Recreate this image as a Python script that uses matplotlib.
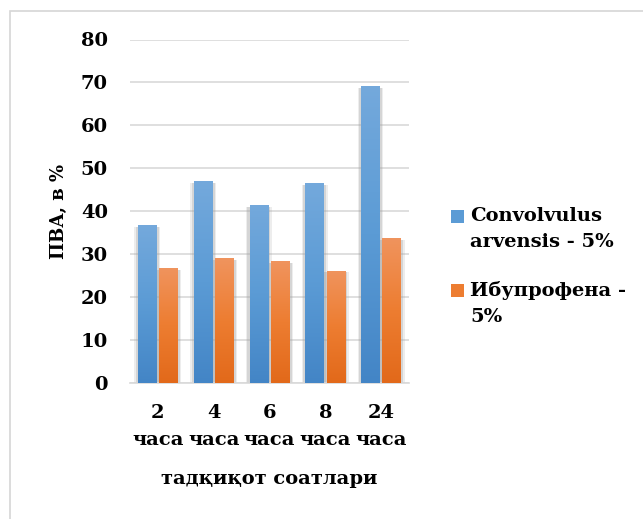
import numpy as np
import matplotlib.pyplot as plt
from matplotlib.patches import Rectangle
from matplotlib.colors import LinearSegmentedColormap

# data
hours = ['2', '4', '6', '8', '24']
convolvulus = [36.7, 47.0, 41.5, 46.6, 69.2]
ibuprofen = [26.8, 29.1, 28.4, 26.2, 33.8]
series_names = ['Convolvulus\narvensis - 5%', 'Ибупрофена -\n5%']
series_colors = ['#5b9bd5', '#ed7d31']
tick_labels = [h + '\nчаса' for h in hours]

plt.rcParams['font.family'] = ['DejaVu Serif']
plt.rcParams['font.weight'] = 'bold'

W, H = 643, 519
fig = plt.figure(figsize=(W / 100, H / 100), dpi=100)
fig.patch.set_facecolor('white')

# light frame of the chart area (only top and left edges visible)
fig.add_artist(Rectangle((10 / W, -0.2), 1.2, 1.2 - 10.5 / H,
                         transform=fig.transFigure, fill=False,
                         edgecolor='#d6d6d6', linewidth=1.2))

ax = fig.add_axes([130 / W, 1 - 383 / H, 279 / W, (383 - 39.5) / H])

blue_cmap = LinearSegmentedColormap.from_list('b', ['#4385c6', '#5b9bd5', '#74a9dc'])
orange_cmap = LinearSegmentedColormap.from_list('o', ['#e2691a', '#ed7d31', '#f0945e'])

x = np.arange(len(hours))
w = 0.33
grad = np.linspace(0, 1, 256).reshape(-1, 1)


def gradient_bar(xc, h, cmap):
    # soft grey shadow behind the bar
    for k, a in [(0.065, 0.18), (0.04, 0.3)]:
        ax.add_patch(Rectangle((xc - w / 2 - k, 0), w + 2 * k, h - 0.4,
                               facecolor='#a0a0a0', edgecolor='none',
                               alpha=a, zorder=2))
    bar = Rectangle((xc - w / 2, 0), w, h, facecolor='none', edgecolor='none', zorder=3)
    ax.add_patch(bar)
    im = ax.imshow(grad, cmap=cmap, extent=[xc - w / 2, xc + w / 2, 0, h],
                   origin='lower', aspect='auto', zorder=3)
    im.set_clip_path(bar)


for i in range(len(hours)):
    gradient_bar(x[i] - 0.19, convolvulus[i], blue_cmap)
    gradient_bar(x[i] + 0.19, ibuprofen[i], orange_cmap)

ax.set_aspect('auto')
ax.set_xlim(-0.5, 4.5)
ax.set_ylim(0, 80)

ax.set_yticks(range(0, 81, 10))
ax.yaxis.grid(True, color='#d9d9d9', linewidth=1.2, zorder=0)
ax.set_axisbelow(True)
for s in ['top', 'right', 'left']:
    ax.spines[s].set_visible(False)
ax.spines['bottom'].set_color('#d9d9d9')
ax.spines['bottom'].set_linewidth(1.2)
ax.tick_params(axis='both', length=0, labelsize=14, colors='black')
ax.tick_params(axis='y', pad=16)
ax.tick_params(axis='x', pad=15)
ax.set_xticks(x)
ax.set_xticklabels(tick_labels, linespacing=1.65)
for t in ax.get_xticklabels() + ax.get_yticklabels():
    t.set_fontweight('bold')

ax.set_ylabel('ПВА, в %', fontsize=13, fontweight='bold', labelpad=9)
ax.set_xlabel('тадқиқот соатлари', fontsize=14, fontweight='bold', labelpad=15)

# legend drawn by hand: marker beside the first line of each label
legend_tops = [207, 281]
for name, col, top in zip(series_names, series_colors, legend_tops):
    fig.add_artist(Rectangle((451 / W, 1 - (top + 16) / H), 13 / W, 13 / H,
                             transform=fig.transFigure, facecolor=col,
                             edgecolor='none'))
    fig.text(470 / W, 1 - top / H, name, ha='left', va='top', fontsize=14,
             fontweight='bold', linespacing=1.55)

fig.savefig('out.png', dpi=100)
